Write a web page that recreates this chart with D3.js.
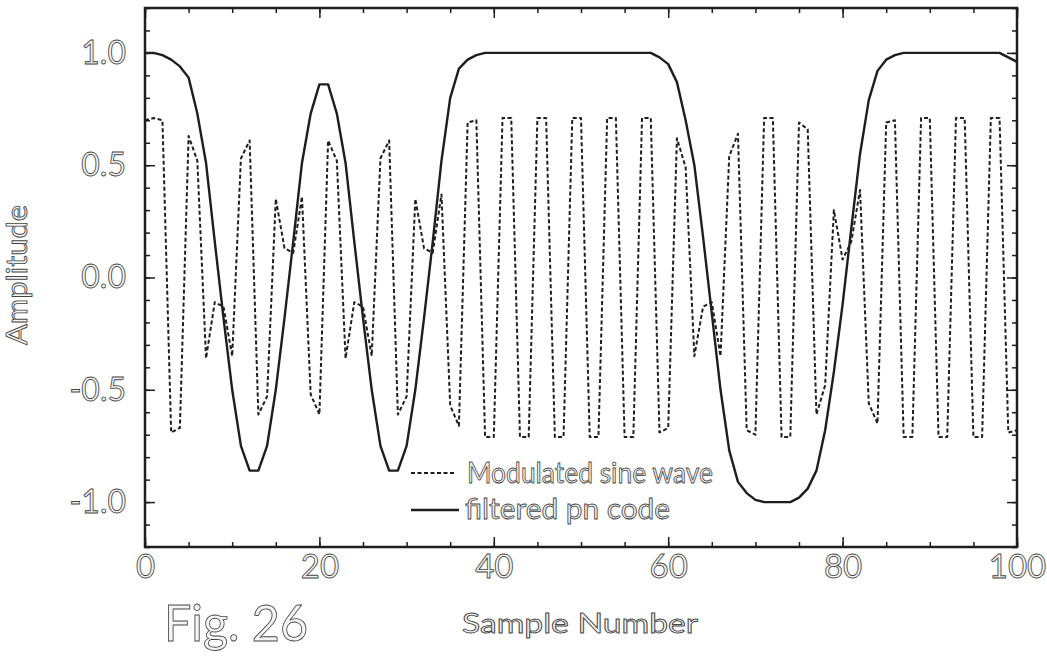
<!DOCTYPE html>
<html>
<head>
<meta charset="utf-8">
<script src="https://cdn.jsdelivr.net/npm/d3@7"></script>
<style>
  body { margin: 0; background: #fff; }
  svg text { font-family: Lato, 'DejaVu Sans', sans-serif; }
</style>
</head>
<body>
<svg id="chart"></svg>
<script>
const w = 1047;
const h = 656;

// values, one per sample (0..100)
const modulated = [
  0.70, 0.71, 0.70, -0.69, -0.67, 0.63, 0.52, -0.36, -0.11, -0.13,
  -0.35, 0.53, 0.61, -0.61, -0.53, 0.35, 0.13, 0.11, 0.36, -0.52,
  -0.61, 0.61, 0.52, -0.36, -0.11, -0.13, -0.35, 0.53, 0.61, -0.61,
  -0.53, 0.35, 0.13, 0.11, 0.37, -0.57, -0.66, 0.69, 0.70, -0.71,
  -0.71, 0.71, 0.71, -0.71, -0.71, 0.71, 0.71, -0.71, -0.71, 0.71,
  0.71, -0.71, -0.71, 0.71, 0.71, -0.71, -0.71, 0.71, 0.71, -0.69,
  -0.67, 0.62, 0.49, -0.35, -0.13, -0.11, -0.35, 0.54, 0.64, -0.68,
  -0.70, 0.71, 0.71, -0.71, -0.71, 0.69, 0.66, -0.61, -0.48, 0.30,
  0.08, 0.16, 0.39, -0.56, -0.65, 0.69, 0.70, -0.71, -0.71, 0.71,
  0.71, -0.71, -0.71, 0.71, 0.71, -0.71, -0.71, 0.71, 0.71, -0.69,
  -0.68
];

const pnCode = [
  1.00, 1.00, 0.99, 0.97, 0.94, 0.89, 0.73, 0.51, 0.16, -0.18,
  -0.50, -0.75, -0.86, -0.86, -0.75, -0.50, -0.18, 0.16, 0.51, 0.73,
  0.86, 0.86, 0.73, 0.51, 0.16, -0.18, -0.50, -0.75, -0.86, -0.86,
  -0.75, -0.50, -0.18, 0.16, 0.52, 0.80, 0.93, 0.97, 0.99, 1.00,
  1.00, 1.00, 1.00, 1.00, 1.00, 1.00, 1.00, 1.00, 1.00, 1.00,
  1.00, 1.00, 1.00, 1.00, 1.00, 1.00, 1.00, 1.00, 1.00, 0.98,
  0.95, 0.87, 0.70, 0.50, 0.18, -0.16, -0.50, -0.77, -0.91, -0.96,
  -0.99, -1.00, -1.00, -1.00, -1.00, -0.98, -0.94, -0.86, -0.68, -0.42,
  -0.12, 0.22, 0.55, 0.79, 0.92, 0.97, 0.99, 1.00, 1.00, 1.00,
  1.00, 1.00, 1.00, 1.00, 1.00, 1.00, 1.00, 1.00, 1.00, 0.98,
  0.96
];

const xTicks = [0, 20, 40, 60, 80, 100];
const yTicks = [-1.0, -0.5, 0.0, 0.5, 1.0];
const seriesNames = ['Modulated sine wave', 'filtered pn code'];

const ink = '#1e1e1e';
const textFill = '#f4f4f4';
const textStroke = '#444';

const svg = d3.select('#chart').attr('width', w).attr('height', h);

const x = d3.scaleLinear().domain([0, 100]).range([145, 1017]);
const y = d3.scaleLinear().domain([-1.2, 1.2]).range([547, 8]);

const styleText = sel =>
  sel
    .attr('fill', textFill)
    .attr('stroke', textStroke)
    .attr('stroke-width', 0.85);

// minor + major ticks, all pointing into the plot
const minorX = d3.range(0, 101, 5);
const minorY = d3.range(-12, 13).map(i => i / 10);

const addAxis = (axis, tx, ty) => {
  const g = svg.append('g').attr('transform', `translate(${tx},${ty})`).call(axis);
  g.select('.domain').remove();
  g.selectAll('line').attr('stroke', ink).attr('stroke-width', 1.5);
  return g;
};

addAxis(d3.axisBottom(x).tickValues(minorX).tickSize(-5).tickFormat(''), 0, 547);
addAxis(d3.axisTop(x).tickValues(minorX).tickSize(-5).tickFormat(''), 0, 8);
addAxis(d3.axisLeft(y).tickValues(minorY).tickSize(-5).tickFormat(''), 145, 0);
addAxis(d3.axisRight(y).tickValues(minorY).tickSize(-5).tickFormat(''), 1017, 0);
addAxis(d3.axisTop(x).tickValues(xTicks).tickSize(-10).tickFormat(''), 0, 8);
addAxis(d3.axisRight(y).tickValues(yTicks).tickSize(-10).tickFormat(''), 1017, 0);

const xAxis = addAxis(
  d3.axisBottom(x).tickValues(xTicks).tickSize(-10).tickPadding(8),
  0, 547
);
xAxis.selectAll('text').attr('font-size', 33).call(styleText);

const yAxis = addAxis(
  d3.axisLeft(y).tickValues(yTicks).tickSize(-10).tickPadding(19).tickFormat(d => d.toFixed(1)),
  145, 0
);
yAxis.selectAll('text').attr('font-size', 32).call(styleText);

// frame
svg
  .append('rect')
  .attr('x', x(0))
  .attr('y', y(1.2))
  .attr('width', x(100) - x(0))
  .attr('height', y(-1.2) - y(1.2))
  .attr('fill', 'none')
  .attr('stroke', ink)
  .attr('stroke-width', 2.5);

const line = d3
  .line()
  .x((d, i) => x(i))
  .y(d => y(d));

svg
  .append('path')
  .datum(pnCode)
  .attr('d', line)
  .attr('fill', 'none')
  .attr('stroke', ink)
  .attr('stroke-width', 2.4)
  .attr('stroke-linejoin', 'round');

svg
  .append('path')
  .datum(modulated)
  .attr('d', line)
  .attr('fill', 'none')
  .attr('stroke', ink)
  .attr('stroke-width', 2)
  .attr('stroke-dasharray', '4,2.5')
  .attr('stroke-linejoin', 'round');

// legend
const legend = svg.append('g');
legend
  .append('line')
  .attr('x1', 411).attr('x2', 455)
  .attr('y1', 473).attr('y2', 473)
  .attr('stroke', ink)
  .attr('stroke-width', 2)
  .attr('stroke-dasharray', '4,2.5');
legend
  .append('line')
  .attr('x1', 411).attr('x2', 459)
  .attr('y1', 510).attr('y2', 510)
  .attr('stroke', ink)
  .attr('stroke-width', 2.4);
legend
  .append('text')
  .attr('x', 467).attr('y', 483)
  .attr('font-size', 29)
  .attr('textLength', 246)
  .attr('lengthAdjust', 'spacingAndGlyphs')
  .text(seriesNames[0])
  .call(styleText);
legend
  .append('text')
  .attr('x', 465).attr('y', 519)
  .attr('font-size', 29)
  .attr('textLength', 205)
  .attr('lengthAdjust', 'spacingAndGlyphs')
  .text(seriesNames[1])
  .call(styleText);

// axis titles and figure label
svg
  .append('text')
  .attr('transform', 'translate(27,275) rotate(-90)')
  .attr('text-anchor', 'middle')
  .attr('font-size', 28)
  .attr('textLength', 140)
  .attr('lengthAdjust', 'spacingAndGlyphs')
  .text('Amplitude')
  .call(styleText);

svg
  .append('text')
  .attr('x', 580).attr('y', 633)
  .attr('text-anchor', 'middle')
  .attr('font-size', 27)
  .attr('textLength', 236)
  .attr('lengthAdjust', 'spacingAndGlyphs')
  .text('Sample Number')
  .call(styleText);

svg
  .append('text')
  .attr('x', 164).attr('y', 641)
  .attr('font-size', 51)
  .attr('textLength', 144)
  .attr('lengthAdjust', 'spacingAndGlyphs')
  .text('Fig. 26')
  .call(styleText);
</script>
</body>
</html>
